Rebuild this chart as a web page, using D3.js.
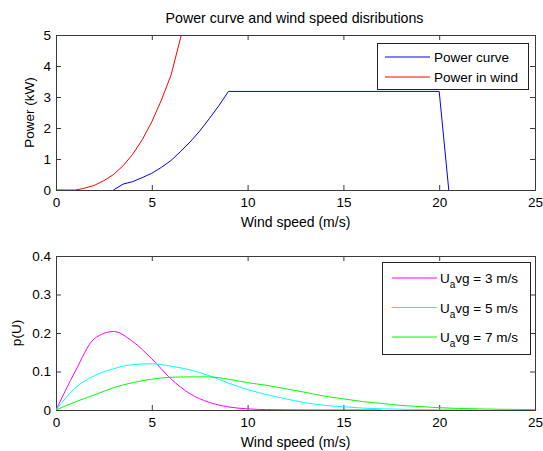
<!DOCTYPE html>
<html><head><meta charset="utf-8">
<script src="https://cdn.jsdelivr.net/npm/d3@7"></script>
<style>
body{margin:0;background:#fff;}
svg{font-family:"Liberation Sans",Arial,sans-serif;}
</style></head>
<body><svg id="c" width="543" height="451"></svg>
<script>
// ---- data ----
const title = "Power curve and wind speed disributions";
const xTicks = [0,5,10,15,20,25];
const topYTicks = [0,1,2,3,4,5];
const botYTicks = [0,0.1,0.2,0.3,0.4];

const powerCurveSpeed = [3,3.5,4,4.5,5,5.5,6,6.5,7,7.5,8,8.5,9,20,20.5];
const powerCurveKW    = [0,0.19,0.27,0.4,0.54,0.73,0.95,1.24,1.55,1.9,2.3,2.72,3.18,3.18,0];

const windPowerSpeed = [0,0.5,1,1.2,1.5,2,2.5,3,3.5,4,4.5,5,5.5,6,6.5,7];
const windPowerKW    = [0,0,0,0.02,0.06,0.15,0.3,0.5,0.78,1.15,1.62,2.2,2.9,3.7,4.9,6.1];

const pdfSpeed = [0,1,2,3,4,5,6,7,8,9,10,11,12,13,14,15,16,17,18,19,20,21,22,23,24,25];
const pdfAvg3 = [0,0.1,0.185,0.204,0.178,0.133,0.081,0.042,0.02,0.008,0.003,0.001,0.0005,0.0002,0.0001,0,0,0,null,null,null,null,null,null,null,null];
const pdfAvg5 = [0,0.057,0.089,0.107,0.118,0.12,0.114,0.104,0.089,0.07,0.053,0.04,0.029,0.019,0.012,0.0085,0.005,0.003,0.002,0.001,0.0006,0.0003,0.0001,null,null,null];
const pdfAvg7 = [0,0.021,0.039,0.058,0.071,0.08,0.085,0.086,0.086,0.08,0.071,0.064,0.055,0.046,0.036,0.029,0.022,0.017,0.012,0.009,0.006,0.004,0.003,0.002,0.0015,0.001];

const topSeries = [
  {name:"Power curve", x:powerCurveSpeed, y:powerCurveKW, color:"#0000ff"},
  {name:"Power in wind", x:windPowerSpeed, y:windPowerKW, color:"#ff0000"}
];
const botSeries = [
  {avg:3, y:pdfAvg3, color:"#ff00ff"},
  {avg:5, y:pdfAvg5, color:"#00ffff"},
  {avg:7, y:pdfAvg7, color:"#00ff00"}
];

// ---- layout ----
const svg = d3.select("#c");
const L = 56, R = 535;
const topP = {t:35, b:190}, botP = {t:256, b:410};
const axisColor = "#3a3a3a";
const fs = 13.5;

svg.append("text").attr("x",(L+R)/2-1).attr("y",23).attr("text-anchor","middle")
  .attr("font-size",14.2).attr("fill","#000").text(title);

function panel(p, yDomain, yTicks, yFmt, ylabel, ylabX, id){
  const x = d3.scaleLinear().domain([0,25]).range([L,R]);
  const y = d3.scaleLinear().domain(yDomain).range([p.b,p.t]);
  const g = svg.append("g");
  g.append("clipPath").attr("id",id).append("rect")
    .attr("x",L).attr("y",p.t).attr("width",R-L).attr("height",p.b-p.t);
  const tl = 5;
  const xb = d3.axisBottom(x).tickValues(xTicks).tickSize(-tl).tickPadding(7).tickFormat(d3.format("d"));
  g.append("g").attr("transform",`translate(0,${p.b})`).call(xb);
  const xt = d3.axisTop(x).tickValues(xTicks).tickSize(-tl).tickFormat("");
  g.append("g").attr("transform",`translate(0,${p.t})`).call(xt);
  const yl = d3.axisLeft(y).tickValues(yTicks).tickSize(-tl).tickPadding(5).tickFormat(yFmt);
  g.append("g").attr("transform",`translate(${L},0)`).call(yl);
  const yr = d3.axisRight(y).tickValues(yTicks).tickSize(-tl).tickFormat("");
  g.append("g").attr("transform",`translate(${R},0)`).call(yr);
  g.selectAll(".domain").attr("stroke",axisColor).attr("stroke-width",1);
  g.selectAll(".tick line").attr("stroke",axisColor);
  g.selectAll(".tick text").attr("font-size",fs).attr("fill","#000")
    .attr("font-family","Liberation Sans, Arial, sans-serif");
  g.append("text").attr("x",(L+R)/2).attr("y",p.b+37).attr("text-anchor","middle")
    .attr("font-size",14).text("Wind speed (m/s)");
  g.append("text").attr("transform",`translate(${ylabX},${(p.t+p.b)/2}) rotate(-90)`)
    .attr("text-anchor","middle").attr("font-size",fs).text(ylabel);
  const plot = g.append("g").attr("clip-path",`url(#${id})`);
  return {x,y,g,plot};
}

// top panel
const A = panel(topP,[0,5],topYTicks,d3.format("d"),"Power (kW)",34,"clipTop");
topSeries.forEach(s=>{
  const pts = s.x.map((v,i)=>[v,s.y[i]]);
  A.plot.append("path").datum(pts)
    .attr("d",d3.line().x(d=>A.x(d[0])).y(d=>A.y(d[1])))
    .attr("fill","none").attr("stroke",s.color).attr("stroke-width",1);
});
{
  const lg = A.g.append("g");
  lg.append("rect").attr("x",377.5).attr("y",43.5).attr("width",151).attr("height",46)
    .attr("fill","#fff").attr("stroke","#222");
  topSeries.forEach((s,i)=>{
    const yy = 57 + i*20;
    lg.append("line").attr("x1",385).attr("x2",430).attr("y1",yy).attr("y2",yy)
      .attr("stroke",s.color).attr("stroke-width",1);
    lg.append("text").attr("x",434).attr("y",yy+5).attr("font-size",fs).text(s.name);
  });
}

// bottom panel
const B = panel(botP,[0,0.4],botYTicks,v=>v===0?"0":d3.format(".1f")(v),"p(U)",21,"clipBot");
botSeries.forEach(s=>{
  const pts = pdfSpeed.map((v,i)=>[v,s.y[i]]);
  B.plot.append("path").datum(pts)
    .attr("d",d3.line().defined(d=>d[1]!==null).curve(d3.curveMonotoneX).x(d=>B.x(d[0])).y(d=>B.y(d[1])))
    .attr("fill","none").attr("stroke",s.color).attr("stroke-width",1);
});
{
  const lg = B.g.append("g");
  lg.append("rect").attr("x",382.5).attr("y",262.5).attr("width",148).attr("height",92)
    .attr("fill","#fff").attr("stroke","#222");
  botSeries.forEach((s,i)=>{
    const yy = 278 + i*29.5;
    lg.append("line").attr("x1",392).attr("x2",437).attr("y1",yy).attr("y2",yy)
      .attr("stroke",s.color).attr("stroke-width",1);
    const t = lg.append("text").attr("x",440).attr("y",yy+5).attr("font-size",fs);
    t.append("tspan").text("U");
    t.append("tspan").attr("font-size",10).attr("dy",5).text("a");
    t.append("tspan").attr("dy",-5).text(`vg = ${s.avg} m/s`);
  });
}
</script></body></html>
